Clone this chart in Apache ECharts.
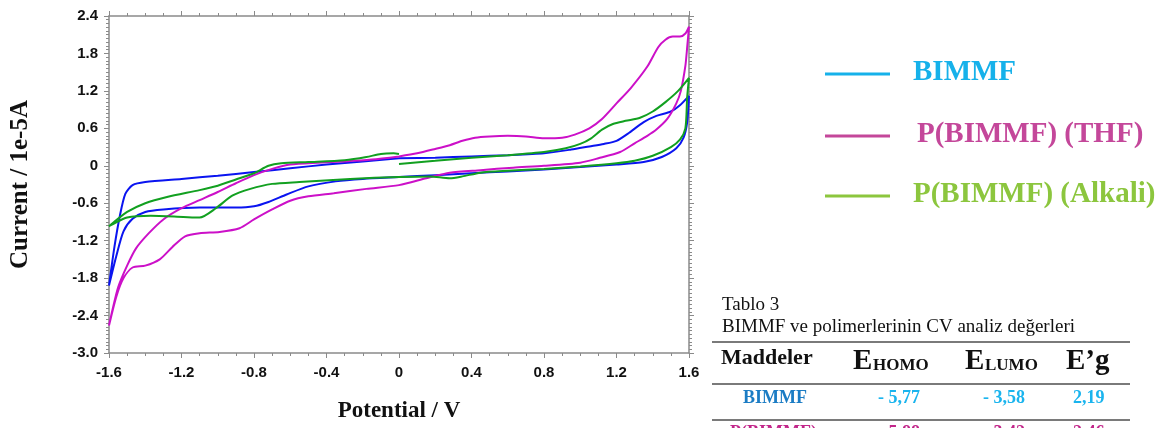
<!DOCTYPE html>
<html><head><meta charset="utf-8">
<script src="https://cdn.jsdelivr.net/npm/echarts@6/dist/echarts.min.js"></script>
<style>html,body{margin:0;padding:0;background:#fff}#c{width:1171px;height:428px}</style>
</head><body><div id="c"></div>
<script>
// ---- data (potential V, current 1e-5 A), each loop traced in scan order ----
const bimmfV = [0,0.2,0.4,0.6,0.8,0.95,1.05,1.13,1.2,1.27,1.35,1.42,1.5,1.55,1.6,
  1.59,1.57,1.53,1.45,1.35,1.2,1.0,0.8,0.6,0.4,0.2,0,-0.2,-0.35,-0.5,-0.62,-0.72,-0.8,-0.9,-1.1,-1.3,-1.4,-1.47,-1.52,-1.56,-1.6,
  -1.57,-1.54,-1.51,-1.47,-1.4,-1.2,-1.0,-0.8,-0.6,-0.4,-0.2,0];
const bimmfI = [0.12,0.13,0.15,0.17,0.2,0.26,0.31,0.35,0.4,0.53,0.7,0.8,0.87,0.97,1.12,
  0.7,0.45,0.28,0.14,0.06,0.02,-0.02,-0.06,-0.09,-0.12,-0.15,-0.18,-0.21,-0.25,-0.33,-0.46,-0.58,-0.65,-0.67,-0.67,-0.7,-0.74,-0.85,-1.05,-1.45,-1.92,
  -1.3,-0.8,-0.45,-0.31,-0.26,-0.21,-0.16,-0.1,-0.04,0.02,0.07,0.12];

const thfV = [0,0.1,0.2,0.28,0.35,0.42,0.5,0.6,0.7,0.8,0.9,0.97,1.05,1.12,1.2,1.28,1.37,1.43,1.47,1.51,1.55,1.58,1.6,
  1.59,1.58,1.555,1.53,1.48,1.42,1.37,1.3,1.22,1.1,1.0,0.8,0.63,0.45,0.28,0.15,0,-0.18,-0.36,-0.5,-0.6,-0.7,-0.8,-0.88,-0.99,-1.1,-1.18,-1.25,-1.32,-1.4,-1.47,-1.52,-1.56,-1.6,
  -1.58,-1.55,-1.5,-1.45,-1.38,-1.3,-1.2,-1.1,-1.0,-0.9,-0.8,-0.7,-0.6,-0.45,-0.3,-0.15,0];
const thfI = [0.15,0.2,0.27,0.33,0.4,0.45,0.47,0.48,0.47,0.44,0.45,0.5,0.6,0.75,1.0,1.25,1.59,1.9,2.02,2.07,2.07,2.12,2.23,
  1.9,1.6,1.2,1.0,0.75,0.58,0.48,0.36,0.22,0.12,0.05,0.0,-0.03,-0.07,-0.11,-0.2,-0.31,-0.37,-0.44,-0.49,-0.56,-0.7,-0.86,-1.0,-1.06,-1.08,-1.13,-1.3,-1.5,-1.6,-1.63,-1.8,-2.1,-2.56,
  -2.3,-1.95,-1.6,-1.32,-1.08,-0.86,-0.68,-0.55,-0.42,-0.28,-0.15,-0.05,0.02,0.05,0.07,0.1,0.15];

const alkV = [0,0.2,0.4,0.6,0.8,0.92,1.0,1.06,1.12,1.18,1.25,1.33,1.4,1.47,1.54,1.6,
  1.59,1.58,1.55,1.5,1.4,1.3,1.2,1.0,0.8,0.6,0.45,0.35,0.28,0.17,0,-0.27,-0.55,-0.7,-0.82,-0.92,-1.01,-1.1,-1.19,-1.37,-1.5,-1.6,
  -1.5,-1.4,-1.28,-1.1,-1.0,-0.9,-0.8,-0.72,-0.65,-0.5,-0.3,-0.18,-0.1,-0.03,0];
const alkI = [0.03,0.08,0.13,0.17,0.22,0.28,0.35,0.44,0.58,0.67,0.72,0.77,0.87,1.02,1.2,1.41,
  1.1,0.6,0.42,0.3,0.16,0.08,0.04,-0.01,-0.05,-0.08,-0.11,-0.17,-0.2,-0.17,-0.18,-0.21,-0.26,-0.29,-0.37,-0.48,-0.68,-0.83,-0.82,-0.8,-0.83,-0.97,
  -0.74,-0.6,-0.5,-0.39,-0.32,-0.22,-0.12,0.0,0.04,0.06,0.09,0.14,0.19,0.2,0.19];

const seriesNames = ['BIMMF','P(BIMMF) (THF)','P(BIMMF) (Alkali)'];
const xTicks = {min:-1.6, max:1.6, step:0.4};
const yTicks = {min:-3.0, max:2.4, step:0.6};
const tableTitle = ['Tablo 3','BIMMF ve polimerlerinin CV analiz değerleri'];
const tableRows = [
  ['BIMMF','- 5,77','- 3,58','2,19'],
  ['P(BIMMF)','- 5,88','- 3,42','2,46']
];

// ---- build ----
const zip = (a,b) => a.map((v,i)=>[v,b[i]]);
const lineColors = ['#0a14f0','#cc10c8','#12a020'];
const legendColors = ['#16b1ea','#c4479a','#8cc63e'];
const serif = '"Liberation Serif", "Times New Roman", serif';
const sans = '"Liberation Sans", Arial, sans-serif';
const fmt = v => Math.abs(v) < 1e-9 ? '0' : v.toFixed(1);
const axisGray = '#8a8a8a';

function xAx(pos, labels){
  return {type:'value', position:pos, min:xTicks.min, max:xTicks.max, interval:xTicks.step,
    axisLine:{show:true, onZero:false, lineStyle:{color:axisGray, width:1.5}},
    axisTick:{show:true, length:5, lineStyle:{color:axisGray}},
    minorTick:{show:true, splitNumber:4, length:3, lineStyle:{color:axisGray}},
    splitLine:{show:false},
    axisLabel:{show:labels, formatter:fmt, color:'#111', fontFamily:sans, fontWeight:'bold', fontSize:15, margin:12},
    name: labels ? 'Potential / V' : '', nameLocation:'middle', nameGap:47,
    nameTextStyle:{fontFamily:serif, fontWeight:'bold', fontSize:23, color:'#111'}};
}
function yAx(pos, labels){
  return {type:'value', position:pos, min:yTicks.min, max:yTicks.max, interval:yTicks.step,
    axisLine:{show:true, onZero:false, lineStyle:{color:axisGray, width:1.5}},
    axisTick:{show:true, length:5, lineStyle:{color:axisGray}},
    minorTick:{show:true, splitNumber:10, length:3, lineStyle:{color:axisGray}},
    splitLine:{show:false},
    axisLabel:{show:labels, formatter:fmt, color:'#111', fontFamily:sans, fontWeight:'bold', fontSize:15, margin:11},
    name: labels ? 'Current / 1e-5A' : '', nameLocation:'middle', nameGap:76, nameRotate:90,
    nameTextStyle:{fontFamily:serif, fontWeight:'bold', fontSize:25, color:'#111'}};
}

const data = [zip(bimmfV,bimmfI), zip(thfV,thfI), zip(alkV,alkI)];
const series = data.map((d,i)=>({
  name:seriesNames[i], type:'line', data:d, smooth:0.25, showSymbol:false, symbol:'none',
  xAxisIndex:0, yAxisIndex:0, clip:false,
  lineStyle:{color:lineColors[i], width:2}
}));

// legend drawn as graphics (colours differ from curve colours in the reference)
const graphic = [];
const legY = [74,136,196], legTextX = [913,917,913];
seriesNames.forEach((n,i)=>{
  graphic.push({type:'line', shape:{x1:825,y1:legY[i],x2:890,y2:legY[i]}, style:{stroke:legendColors[i], lineWidth:3}});
  graphic.push({type:'text', style:{text:n, x:legTextX[i], y:legY[i]-1, font:'bold 29px '+serif, fill:legendColors[i], align:'left', verticalAlign:'middle'}});
});
// table
graphic.push({type:'text', style:{text:tableTitle[0], x:722, y:305, font:'19px '+serif, fill:'#111', align:'left', verticalAlign:'middle'}});
graphic.push({type:'text', style:{text:tableTitle[1], x:722, y:327, font:'19px '+serif, fill:'#111', align:'left', verticalAlign:'middle'}});
[342,384,420].forEach(y=>graphic.push({type:'line', shape:{x1:712,y1:y,x2:1130,y2:y}, style:{stroke:'#7a7a7a', lineWidth:2}}));
graphic.push({type:'text', style:{text:'Maddeler', x:721, y:358, font:'bold 22px '+serif, fill:'#111', align:'left', verticalAlign:'middle'}});
[['HOMO',853],['LUMO',965]].forEach(([s,x])=>{
  graphic.push({type:'text', style:{text:'E', x:x, y:362, font:'bold 29px '+serif, fill:'#111', align:'left', verticalAlign:'middle'}});
  graphic.push({type:'text', style:{text:s, x:x+20, y:366, font:'bold 17px '+serif, fill:'#111', align:'left', verticalAlign:'middle'}});
});
graphic.push({type:'text', style:{text:'E’g', x:1066, y:362, font:'bold 29px '+serif, fill:'#111', align:'left', verticalAlign:'middle'}});
const rowY = [398,433], nameCol = ['#1b7cc4','#c2268a'], valCol = ['#1ab4ee','#c2268a'];
tableRows.forEach((r,i)=>{
  graphic.push({type:'text', style:{text:r[0], x:i===0?743:730, y:rowY[i], font:'bold 18px '+serif, fill:nameCol[i], align:'left', verticalAlign:'middle'}});
  [878,983,1073].forEach((x,j)=>graphic.push({type:'text', style:{text:r[j+1], x:x, y:rowY[i], font:'bold 18px '+serif, fill:valCol[i], align:'left', verticalAlign:'middle'}}));
});

const chart = echarts.init(document.getElementById('c'), null, {renderer:'canvas'});
chart.setOption({
  animation:false, backgroundColor:'#fff',
  grid:{left:109, right:482, top:16, bottom:74, containLabel:false},
  xAxis:[xAx('bottom',true), xAx('top',false)],
  yAxis:[yAx('left',true), yAx('right',false)],
  series:series,
  graphic:graphic
});
</script></body></html>
